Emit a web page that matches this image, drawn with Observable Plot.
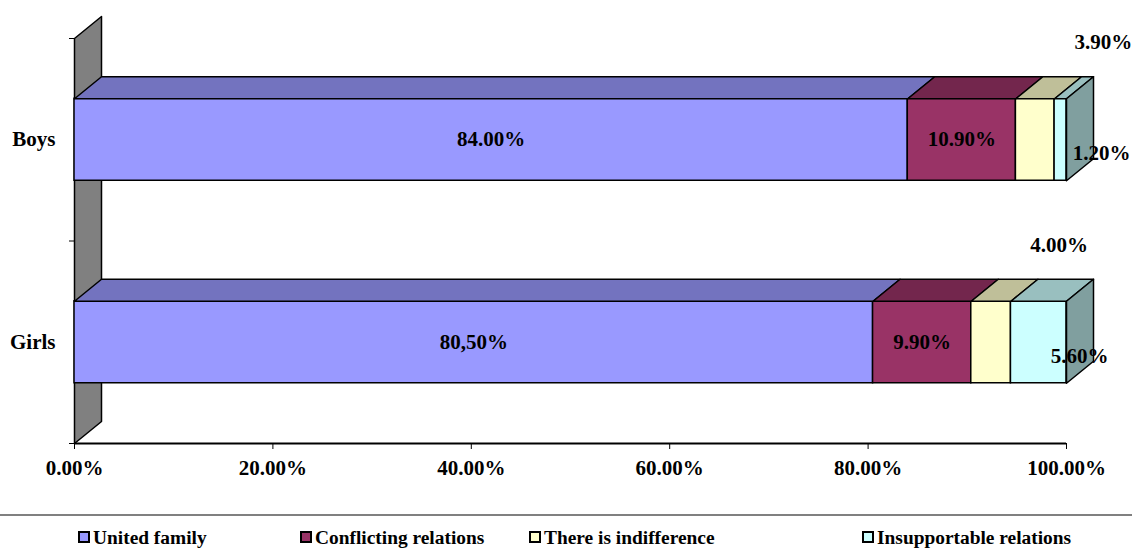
<!DOCTYPE html>
<html>
<head>
<meta charset="utf-8">
<script src="https://cdn.jsdelivr.net/npm/d3@7"></script>
<script src="https://cdn.jsdelivr.net/npm/@observablehq/plot@0.6"></script>
<style>
  body { margin: 0; background: white; }
  #wrap { position: relative; width: 1132px; height: 552px; font-family: "Liberation Serif", "Times New Roman", serif; font-weight: bold; }
  #legend { position: absolute; left: 0; top: 514px; width: 1132px; height: 38px; border-top: 2px solid #808080; }
  .item { position: absolute; top: 10px; font-size: 19.4px; line-height: 23px; white-space: nowrap; color: #000; }
  .sw { display: inline-block; width: 8px; height: 8px; border: 2px solid #000; margin-right: 3px; vertical-align: 1px; }
</style>
</head>
<body>
<div id="wrap"><div id="chart"></div><div id="legend"></div></div>
<script>
// ---- data ----
const categories = ["Boys", "Girls"];
const series = ["United family", "Conflicting relations", "There is indifference", "Insupportable relations"];
const boysValues = [84.0, 10.9, 3.9, 1.2];
const girlsValues = [80.5, 9.9, 4.0, 5.6];
const boysLabels = ["84.00%", "10.90%", "3.90%", "1.20%"];
const girlsLabels = ["80,50%", "9.90%", "4.00%", "5.60%"];
const xTicks = [0, 20, 40, 60, 80, 100];
const xTickLabels = ["0.00%", "20.00%", "40.00%", "60.00%", "80.00%", "100.00%"];
const seriesColors = ["#9999FF", "#993366", "#FFFFCC", "#CCFFFF"];
const wallColor = "#808080";

// ---- layout ----
const W = 1132, H = 505;
const mL = 74, mR = 66, mT = 38, mB = 62;
const depthPx = [27, 22];
const dxU = depthPx[0] * 100 / (W - mL - mR);
const dyU = depthPx[1] * categories.length / (H - mT - mB);
const halfBar = 0.2025;

const shade = (c, k) => { const r = d3.rgb(c); return d3.rgb(r.r * k, r.g * k, r.b * k).formatHex(); };

const valuesByCat = [boysValues, girlsValues];
const labelsByCat = [boysLabels, girlsLabels];
const rows = [];
categories.forEach((cat, i) => {
  let acc = 0;
  valuesByCat[i].forEach((v, j) => {
    rows.push({cat, series: series[j], j, x1: acc, x2: acc + v, yc: categories.length - i - 0.5,
               label: labelsByCat[i][j], fill: seriesColors[j]});
    acc += v;
  });
});

// polygons: wall, top faces, side faces
const polys = [];
let pid = 0;
function addPoly(pts, fill) { pid++; pts.forEach(([x, y]) => polys.push({id: pid, x, y, fill})); }
addPoly([[0, 0], [0, categories.length], [dxU, categories.length + dyU], [dxU, dyU]], wallColor);
rows.forEach(r => {
  const top = r.yc + halfBar;
  addPoly([[r.x1, top], [r.x2, top], [r.x2 + dxU, top + dyU], [r.x1 + dxU, top + dyU]], shade(r.fill, 0.75));
});
categories.forEach((cat) => {
  const last = rows.filter(r => r.cat === cat).slice(-1)[0];
  const top = last.yc + halfBar, bot = last.yc - halfBar;
  addPoly([[last.x2, bot], [last.x2, top], [last.x2 + dxU, top + dyU], [last.x2 + dxU, bot + dyU]], shade(last.fill, 0.625));
});

const font = {fontSize: 21, fontWeight: "bold", fontFamily: "'Liberation Serif', 'Times New Roman', serif"};

const chart = Plot.plot({
  width: W, height: H,
  marginLeft: mL, marginRight: mR, marginTop: mT, marginBottom: mB,
  style: {fontFamily: "'Liberation Serif', 'Times New Roman', serif", fontSize: "21px", fontWeight: "bold", color: "black", background: "white"},
  x: {domain: [0, 100]},
  y: {domain: [0, categories.length]},
  color: {type: "identity"},
  marks: [
    Plot.line(polys.filter(p => p.id === 1), {x: "x", y: "y", z: "id", fill: "fill", stroke: "black", strokeWidth: 1.5, curve: "linear-closed"}),
    Plot.ruleY([0], {stroke: "black", strokeWidth: 2}),
    Plot.axisX({ticks: xTicks, tickFormat: d => xTickLabels[xTicks.indexOf(d)], tickSize: 6, tickPadding: 11, ...font}),
    Plot.axisY({ticks: d3.range(categories.length + 1), tickFormat: () => "", tickSize: 5}),
    Plot.rect(rows, {x1: "x1", x2: "x2", y1: d => d.yc - halfBar, y2: d => d.yc + halfBar, fill: "fill", stroke: "black", strokeWidth: 1.5}),
    Plot.line(polys.filter(p => p.id !== 1), {x: "x", y: "y", z: "id", fill: "fill", stroke: "black", strokeWidth: 1.5, curve: "linear-closed"}),
    Plot.text(categories, {x: () => 0, y: (d, i) => categories.length - i - 0.5, text: d => d, textAnchor: "end", dx: -19, ...font}),
    Plot.text(rows.filter(r => r.j < 2), {x: d => (d.x1 + d.x2) / 2, y: "yc", text: "label", ...font}),
    Plot.text(rows.filter(r => r.j === 2), {x: d => (d.x1 + d.x2) / 2, y: "yc", text: "label", dx: 68, dy: -97, ...font}),
    Plot.text(rows.filter(r => r.j === 3), {x: d => (d.x1 + d.x2) / 2, y: "yc", text: "label", dx: 41, dy: 14, ...font})
  ]
});
document.getElementById("chart").appendChild(chart);

// legend
const legendLefts = [78, 300, 529, 862];
const legend = document.getElementById("legend");
series.forEach((s, j) => {
  const it = document.createElement("div");
  it.className = "item";
  it.style.left = legendLefts[j] + "px";
  it.innerHTML = `<span class="sw" style="background:${seriesColors[j]}"></span>${s}`;
  legend.appendChild(it);
});
</script>
</body>
</html>
